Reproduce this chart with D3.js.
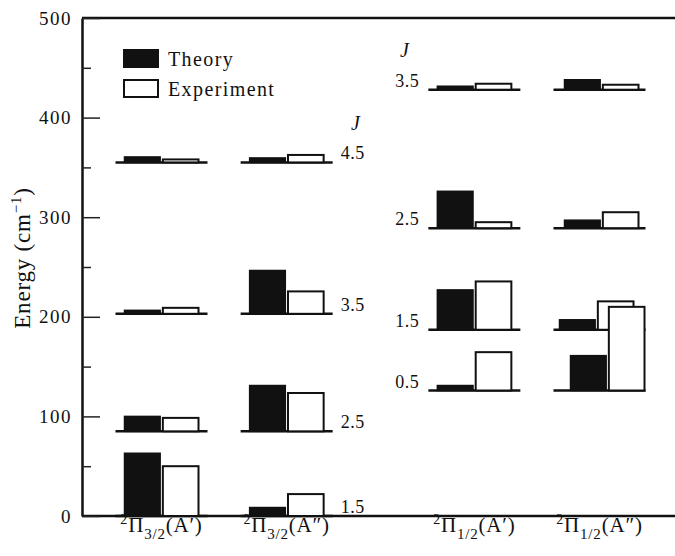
<!DOCTYPE html>
<html>
<head>
<meta charset="utf-8">
<script src="https://cdn.jsdelivr.net/npm/d3@7"></script>
<style>
body { margin: 0; background: #fff; }
text { font-family: "Liberation Serif", "Times New Roman", serif; fill: #111; }
</style>
</head>
<body>
<div id="chart"></div>
<script>
// categories (electronic state / symmetry)
var groupSub = ["3/2", "3/2", "1/2", "1/2"];
var groupSym = ["A\u2032", "A\u2033", "A\u2032", "A\u2033"];

// J values and level energies (cm-1) for each spin-orbit manifold
var jValues32 = [1.5, 2.5, 3.5, 4.5];
var jValues12 = [0.5, 1.5, 2.5, 3.5];
var levelEnergy32 = [0, 85, 203, 355];
var levelEnergy12 = [126, 187, 289, 428];

// bar heights (cm-1 units) per group, per level (same order as J values)
var theory = [
  [63, 15, 3.5, 5.5],
  [8.5, 46, 43.5, 4.5],
  [5, 40, 37, 3.5],
  [35, 10, 8, 10]
];
var experiment = [
  [50, 13.5, 6, 3],
  [22, 38.5, 22.5, 7.5],
  [38.5, 48.5, 6, 6],
  [84, 28.5, 16, 5]
];

var yTicks = [0, 100, 200, 300, 400, 500];
var yMinor = [50, 150, 250, 350, 450];

var width = 675, height = 556;
var svg = d3.select("#chart").append("svg")
  .attr("width", width)
  .attr("height", height);

var y = d3.scaleLinear().domain([0, 500]).range([516, 18]);
// slot index for each group, extra space between the two manifolds
var slot = function(i) { return i < 2 ? i : i + 0.5; };
var x = d3.scaleLinear().domain([0, 3.5]).range([161.5, 599.5]);
var inner = d3.scaleBand().domain(["Theory", "Experiment"]).range([-37, 37]).paddingInner(0.07);

// frame
svg.append("line").attr("x1", 82).attr("x2", 680).attr("y1", y(500)).attr("y2", y(500))
  .attr("stroke", "#111").attr("stroke-width", 2.5);
svg.append("line").attr("x1", 82).attr("x2", 680).attr("y1", y(0)).attr("y2", y(0))
  .attr("stroke", "#111").attr("stroke-width", 2.5);

var yAxis = svg.append("g")
  .attr("transform", "translate(82,0)")
  .call(d3.axisLeft(y).tickValues(yTicks).tickSize(-18).tickPadding(10).tickSizeOuter(0));
yAxis.select(".domain").attr("stroke-width", 2.5).attr("stroke", "#111");
yAxis.selectAll(".tick line").attr("stroke-width", 1.5).attr("stroke", "#222");
yAxis.selectAll(".tick text")
  .style("font-size", "19px")
  .style("letter-spacing", "1.5px")
  .attr("fill", "#111");

var yAxisMinor = svg.append("g")
  .attr("transform", "translate(82,0)")
  .call(d3.axisLeft(y).tickValues(yMinor).tickSize(-9).tickFormat(""));
yAxisMinor.select(".domain").remove();
yAxisMinor.selectAll(".tick line").attr("stroke-width", 1.5).attr("stroke", "#222");

// y title
var yTitle = svg.append("text")
  .attr("transform", "translate(30,258) rotate(-90)")
  .attr("text-anchor", "middle")
  .style("font-size", "23px")
  .style("letter-spacing", "0.8px");
yTitle.append("tspan").text("Energy (cm");
yTitle.append("tspan").attr("dy", -9).style("font-size", "15px").text("\u22121");
yTitle.append("tspan").attr("dy", 9).text(")");

// build level records
var levels = [];
groupSub.forEach(function(g, gi) {
  var js = gi < 2 ? jValues32 : jValues12;
  var es = gi < 2 ? levelEnergy32 : levelEnergy12;
  js.forEach(function(j, li) {
    levels.push({ group: gi, j: j, energy: es[li], theory: theory[gi][li], experiment: experiment[gi][li] });
  });
});
// draw upper levels first so lower (taller) bars sit on top
levels.sort(function(a, b) { return d3.descending(a.energy, b.energy); });

// small hand nudges seen in the figure (group 4 lowest levels)
var nudge = function(d) {
  if (d.group === 3 && d.j === 0.5) return 8;
  if (d.group === 3 && d.j === 1.5) return -3;
  if (d.group === 3) return 2;
  return 0;
};

var lv = svg.selectAll(".level")
  .data(levels)
  .enter().append("g")
  .attr("class", "level")
  .attr("transform", function(d) { return "translate(" + x(slot(d.group)) + "," + y(d.energy) + ")"; });

lv.append("line")
  .attr("x1", -46).attr("x2", 46)
  .attr("y1", 0).attr("y2", 0)
  .attr("stroke", "#111").attr("stroke-width", 2.5);

lv.append("rect")
  .attr("x", function(d) { return inner("Theory") + nudge(d); })
  .attr("width", inner.bandwidth())
  .attr("y", function(d) { return y(d.theory) - y(0); })
  .attr("height", function(d) { return y(0) - y(d.theory); })
  .attr("fill", "#111").attr("stroke", "#111").attr("stroke-width", 1.5);

lv.append("rect")
  .attr("x", function(d) { return inner("Experiment") + nudge(d); })
  .attr("width", inner.bandwidth())
  .attr("y", function(d) { return y(d.experiment) - y(0); })
  .attr("height", function(d) { return y(0) - y(d.experiment); })
  .attr("fill", "#fff").attr("stroke", "#111").attr("stroke-width", 2);

// J labels
svg.selectAll(".j32")
  .data(jValues32)
  .enter().append("text")
  .attr("class", "j32")
  .attr("x", x(slot(1)) + 54)
  .attr("y", function(d, i) { return y(levelEnergy32[i]) - 3; })
  .style("font-size", "18px")
  .style("letter-spacing", "0.5px")
  .text(function(d) { return d.toFixed(1); });

svg.selectAll(".j12")
  .data(jValues12)
  .enter().append("text")
  .attr("class", "j12")
  .attr("x", x(slot(2)) - 55)
  .attr("y", function(d, i) { return y(levelEnergy12[i]) - 3; })
  .attr("text-anchor", "end")
  .style("font-size", "18px")
  .style("letter-spacing", "0.5px")
  .text(function(d) { return d.toFixed(1); });

svg.append("text").attr("x", 351).attr("y", 130)
  .style("font-size", "20px").style("font-style", "italic").text("J");
svg.append("text").attr("x", 400).attr("y", 57)
  .style("font-size", "20px").style("font-style", "italic").text("J");

// category labels
var cat = svg.selectAll(".cat")
  .data(groupSub)
  .enter().append("text")
  .attr("class", "cat")
  .attr("x", function(d, i) { return x(slot(i)); })
  .attr("y", 532)
  .attr("text-anchor", "middle")
  .style("font-size", "21px")
  .style("letter-spacing", "0.8px");
cat.append("tspan").attr("dy", -8).style("font-size", "14px").text("2");
cat.append("tspan").attr("dy", 8).text("\u03a0");
cat.append("tspan").attr("dy", 7).style("font-size", "15px").text(function(d) { return d; });
cat.append("tspan").attr("dy", -7).text(function(d, i) { return "(" + groupSym[i] + ")"; });

// legend
var legendItems = ["Theory", "Experiment"];
var legend = svg.selectAll(".legend")
  .data(legendItems)
  .enter().append("g")
  .attr("class", "legend")
  .attr("transform", function(d, i) { return "translate(124," + (50 + i * 30) + ")"; });
legend.append("rect")
  .attr("width", 34).attr("height", 17)
  .attr("fill", function(d) { return d === "Theory" ? "#111" : "#fff"; })
  .attr("stroke", "#111").attr("stroke-width", 2);
legend.append("text")
  .attr("x", 44).attr("y", 16)
  .style("font-size", "20px")
  .style("letter-spacing", "1.4px")
  .text(function(d) { return d; });
</script>
</body>
</html>
